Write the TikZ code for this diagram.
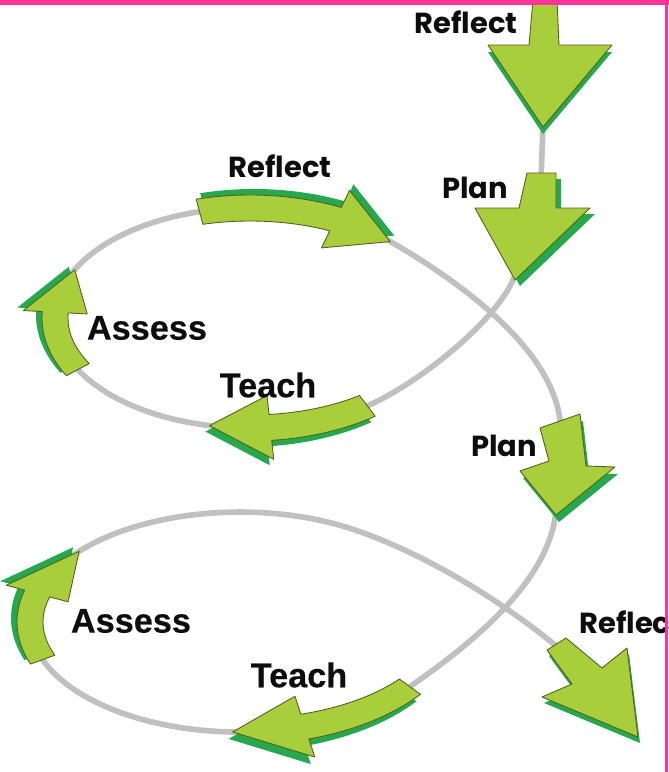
\documentclass[tikz,border=0pt]{standalone}
\usepackage{fontspec}
\setmainfont{Liberation Sans}
\newfontfamily\planfont{Poppins}
\newfontfamily\stagefont{Liberation Sans Bold}[FakeBold=0.4]

\definecolor{leafgreen}{RGB}{168,206,60}
\definecolor{rimgreen}{RGB}{38,168,78}
\definecolor{edgeolive}{RGB}{82,96,32}
\definecolor{trackgray}{RGB}{192,192,192}
\definecolor{framepink}{RGB}{255,51,153}

% half widths of the band and of the head
\newcommand{\bw}{13}
\newcommand{\hw}{32}

% curved arrow on an ellipse: style, rx, ry, tail angle, head angle, tip angle
\newcommand{\ringarrow}[6]{%
  \pgfmathsetmacro\rxa{#2-\bw}\pgfmathsetmacro\rya{#3-\bw}%
  \pgfmathsetmacro\rxb{#2+\bw}\pgfmathsetmacro\ryb{#3+\bw}%
  \pgfmathsetmacro\rxc{#2-\hw}\pgfmathsetmacro\ryc{#3-\hw}%
  \pgfmathsetmacro\rxd{#2+\hw}\pgfmathsetmacro\ryd{#3+\hw}%
  \path[#1] (#4:\rxa+0 and \rya)
      arc[start angle=#4,end angle=#5,x radius=\rxa,y radius=\rya]
    -- (#5:\rxc+0 and \ryc) -- (#6:#2 and #3) -- (#5:\rxd+0 and \ryd)
    -- (#5:\rxb+0 and \ryb)
      arc[start angle=#5,end angle=#4,x radius=\rxb,y radius=\ryb] -- cycle;}
\newcommand{\ringdart}[6]{%
  \ringarrow{rim,shift={#1}}{#2}{#3}{#4}{#5}{#6}%
  \ringarrow{blade}{#2}{#3}{#4}{#5}{#6}}
% straight arrow: shadow shift, outline
\newcommand{\dart}[2]{\fill[rim,shift={#1}] #2; \draw[blade] #2;}

\begin{document}
\begin{tikzpicture}[x=0.02cm,y=-0.02cm,line join=round,
  track/.style={draw=trackgray,line width=3.2pt},
  rim/.style={fill=rimgreen},
  blade/.style={fill=leafgreen,draw=edgeolive,line width=0.5pt},
  stage/.style={font=\stagefont\fontsize{19.5}{22}\selectfont,text=black!95,inner sep=0pt},
  phase/.style={font=\planfont\bfseries\fontsize{16.5}{19}\selectfont,text=black!95,inner sep=0pt}]
  \useasboundingbox (0,0) rectangle (669,772);

  % the track
  \draw[track] (543,125) -- (541,180);
  \draw[track] (515,275) .. controls (500,318) and (420,383) .. (367.4,405.8)
    arc[start angle=53,end angle=315,x radius=195,y radius=110]
    .. controls (440,270) and (550,340) .. (560,420) -- (556,510)
    .. controls (550,585) and (462,650) .. (409.9,686.7)
    arc[start angle=36,end angle=300,x radius=210,y radius=110]
    .. controls (420,550) and (500,600) .. (555,645) -- (590,680);

  % upper loop
  \begin{scope}[shift={(250,318)}]
    \ringdart{(4,-6)}{195}{110}{255}{296}{316}
    \ringdart{(-4,6)}{195}{110}{53}{84}{102}
    \ringdart{(-6,-3)}{195}{110}{152}{183}{206}
  \end{scope}

  % lower loop
  \begin{scope}[shift={(240,622)}]
    \ringdart{(-4,7)}{210}{110}{36}{72}{92}
    \ringdart{(-6,-4)}{210}{110}{160}{195}{220}
  \end{scope}

  % straight ones
  \dart{(0,7)}{(533,0) -- (557,0) -- (559,45) -- (612,45) -- (543,127) -- (488,45) -- (529,45) -- cycle}
  \dart{(5,6)}{(527,173) -- (556,173) -- (556,208) -- (590,208) -- (515,280) -- (475,208) -- (519,208) -- cycle}
  \dart{(3,7)}{(540,428) -- (580,414) -- (586,466) -- (615,467) -- (556,515) -- (520,471) -- (549,461) -- cycle}
  \dart{(2,6)}{(547,650) -- (566,638) -- (602,668) -- (627,648) -- (638,737) -- (542,697) -- (572,684) -- cycle}

  % labels
  \node[phase] (r0) at (466,22)  {Reflect};
  \node[phase] (p1) at (475,188) {Plan};
  \node[phase] (r1) at (280,166) {Reflect};
  \node[stage] (a1) at (147,328) {Assess};
  \node[stage] (t1) at (268,385) {Teach};
  \node[phase] (p2) at (504,446) {Plan};
  \node[stage] (a2) at (131,621) {Assess};
  \node[stage] (t2) at (299,675) {Teach};
  \node[phase,anchor=west] (r2) at (579,622) {Reflec};

  % frame
  \fill[framepink] (0,0) rectangle (669,4.5);
  \fill[framepink] (665,0) rectangle (668,772);
\end{tikzpicture}
\end{document}
